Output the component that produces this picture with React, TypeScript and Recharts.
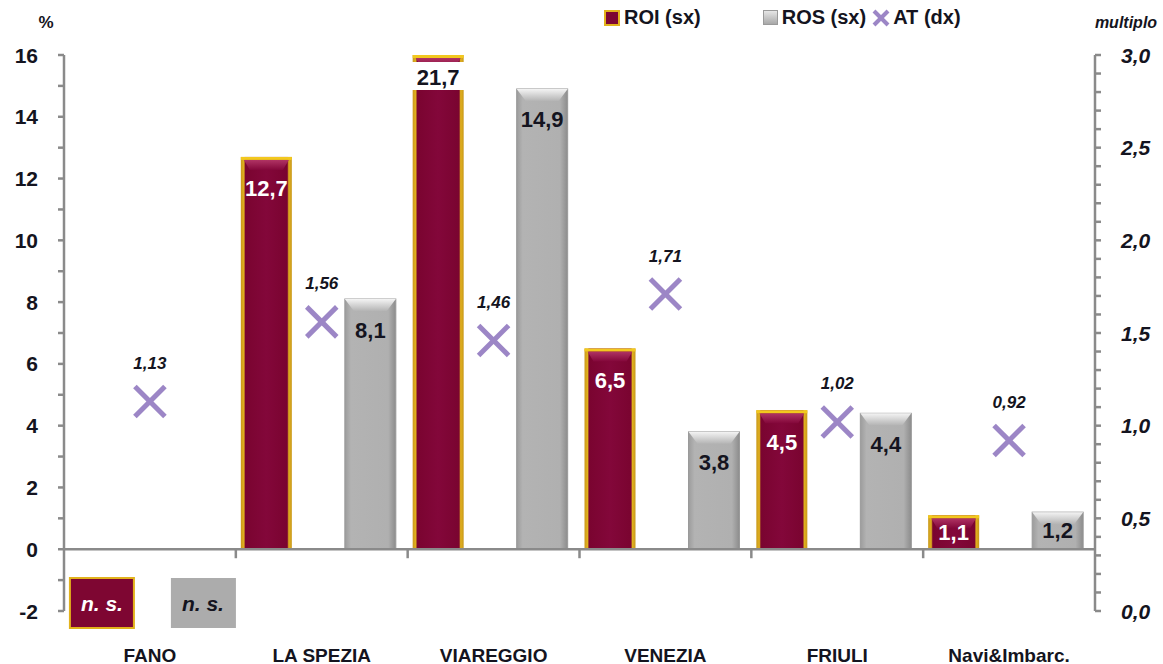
import React from 'react';
import { ComposedChart, Bar, Line, XAxis, YAxis, ReferenceLine, LabelList, Legend, Label } from 'recharts';

const categories = ['FANO', 'LA SPEZIA', 'VIAREGGIO', 'VENEZIA', 'FRIULI', 'Navi&Imbarc.'];
const roiValues: (number | null)[] = [null, 12.7, 21.7, 6.5, 4.5, 1.1];
const rosValues: (number | null)[] = [null, 8.1, 14.9, 3.8, 4.4, 1.2];
const atValues: number[] = [1.13, 1.56, 1.46, 1.71, 1.02, 0.92];

const leftTicks = [-2, -1, 0, 1, 2, 3, 4, 5, 6, 7, 8, 9, 10, 11, 12, 13, 14, 15, 16];
const leftLabelTicks = [-2, 0, 2, 4, 6, 8, 10, 12, 14, 16];
const rightTicks = [0, 0.1, 0.2, 0.3, 0.4, 0.5, 0.6, 0.7, 0.8, 0.9, 1, 1.1, 1.2, 1.3, 1.4, 1.5, 1.6, 1.7, 1.8, 1.9, 2, 2.1, 2.2, 2.3, 2.4, 2.5, 2.6, 2.7, 2.8, 2.9, 3];
const rightLabelTicks = [0, 0.5, 1, 1.5, 2, 2.5, 3];

const LEFT_MIN = -2;
const LEFT_MAX = 16;
const RIGHT_MIN = 0;
const RIGHT_MAX = 3;

const data = categories.map((name, i) => ({ name, roi: roiValues[i], ros: rosValues[i], at: atValues[i] }));

const W = 1163;
const H = 664;
const MARGIN = { top: 55, right: 8, left: 4, bottom: 5 };
const Y_W = 60;
const X_H = 48;
const PLOT_LEFT = MARGIN.left + Y_W;
const PLOT_RIGHT = W - MARGIN.right - Y_W;
const PLOT_TOP = MARGIN.top;
const PLOT_BOTTOM = H - MARGIN.bottom - X_H;
const BAND = (PLOT_RIGHT - PLOT_LEFT) / categories.length;
const ZERO_Y = PLOT_TOP + ((LEFT_MAX - 0) / (LEFT_MAX - LEFT_MIN)) * (PLOT_BOTTOM - PLOT_TOP);

const FONT = '"Liberation Sans", Arial, sans-serif';
const AXIS_COLOR = '#8a8a8a';
const TEXT = '#141420';
const MAROON = '#7e0632';
const GOLD = '#e2b21c';
const GREY = '#acacac';
const PURPLE = '#9c86c6';
const SHIFT = -3;

const fmt1 = (v: number) => v.toFixed(1).replace('.', ',');
const fmt2 = (v: number) => v.toFixed(2).replace('.', ',');

const clipTop = (y: number, height: number, v: number) => {
  const bottom = y + height;
  return v > LEFT_MAX ? bottom - LEFT_MAX * (height / v) : y;
};

const RoiShape = (props: any) => {
  const { x, y, width, height, payload } = props;
  const v = payload?.roi;
  if (v == null || !height) return null;
  const bx = x + SHIFT;
  const bottom = y + height;
  const top = clipTop(y, height, v);
  const h = bottom - top;
  return (
    <g>
      <rect x={bx} y={top} width={width} height={h} fill="url(#roiGrad)" />
      <polygon
        points={`${bx + 3},${top + 3} ${bx + width - 3},${top + 3} ${bx + width - 9},${top + 3 + Math.min(10, h / 3)} ${bx + 9},${top + 3 + Math.min(10, h / 3)}`}
        fill="url(#roiTop)"
      />
      <rect x={bx} y={top} width={width} height={3} fill="#f2c81e" />
      {v > LEFT_MAX && <rect x={bx - 1} y={top + 7} width={width + 2} height={28} fill="#ffffff" />}
    </g>
  );
};

const RosShape = (props: any) => {
  const { x, y, width, height, payload } = props;
  const v = payload?.ros;
  if (v == null || !height) return null;
  const bx = x + SHIFT;
  const bottom = y + height;
  const top = clipTop(y, height, v);
  const h = bottom - top;
  const bev = Math.min(12, h / 2);
  return (
    <g>
      <rect x={bx} y={top} width={width} height={h} fill="url(#rosGrad)" stroke="#9a9a9a" strokeWidth={1} />
      <polygon
        points={`${bx},${top} ${bx + width},${top} ${bx + width - 9},${top + bev} ${bx + 9},${top + bev}`}
        fill="url(#rosTop)"
      />
    </g>
  );
};

const getVB = (props: any) => {
  const vb = props.viewBox;
  if (vb && vb.width != null) return vb;
  return props;
};

const RoiLabel = (props: any) => {
  const { value } = props;
  if (value == null) return null;
  const { x, y, width, height } = getVB(props);
  const top = clipTop(y, height, value);
  const h = y + height - top;
  const over = value > LEFT_MAX;
  const cy = over ? top + 22 : top + Math.min(32, h / 2);
  return (
    <text x={x + SHIFT + width / 2} y={cy} textAnchor="middle" dominantBaseline="central"
      fill={over ? TEXT : '#ffffff'} fontFamily={FONT} fontWeight={700} fontSize={22}>
      {fmt1(value)}
    </text>
  );
};

const RosLabel = (props: any) => {
  const { value } = props;
  if (value == null) return null;
  const { x, y, width, height } = getVB(props);
  const top = clipTop(y, height, value);
  const h = y + height - top;
  const cy = top + Math.min(31, h / 2);
  return (
    <text x={x + SHIFT + width / 2} y={cy} textAnchor="middle" dominantBaseline="central"
      fill={TEXT} fontFamily={FONT} fontWeight={700} fontSize={22}>
      {fmt1(value)}
    </text>
  );
};

const XDot = (props: any) => {
  const { cx, cy } = props;
  if (cx == null || cy == null) return null;
  const s = 15;
  return (
    <g>
      <line x1={cx - s} y1={cy - s} x2={cx + s} y2={cy + s} stroke={PURPLE} strokeWidth={5} />
      <line x1={cx - s} y1={cy + s} x2={cx + s} y2={cy - s} stroke={PURPLE} strokeWidth={5} />
    </g>
  );
};

const AtLabel = (props: any) => {
  const { value } = props;
  if (value == null) return null;
  const { x, y } = getVB(props);
  return (
    <text x={x} y={y - 38} textAnchor="middle" dominantBaseline="central" fill={TEXT}
      fontFamily={FONT} fontWeight={700} fontStyle="italic" fontSize={17}>
      {fmt2(value)}
    </text>
  );
};

const CatTick = (props: any) => {
  const { x, payload } = props;
  const idx = payload.index ?? categories.indexOf(payload.value);
  const boxY = PLOT_BOTTOM - 33;
  return (
    <g>
      {idx > 0 && (
        <line x1={x - BAND / 2} y1={ZERO_Y} x2={x - BAND / 2} y2={ZERO_Y + 9} stroke={AXIS_COLOR} strokeWidth={2.5} />
      )}
      {roiValues[idx] == null && (
        <g>
          <rect x={x - 80} y={boxY} width={64} height={50} fill={MAROON} stroke={GOLD} strokeWidth={2} />
          <text x={x - 48} y={boxY + 25} textAnchor="middle" dominantBaseline="central" fill="#ffffff"
            fontFamily={FONT} fontWeight={700} fontStyle="italic" fontSize={21}>n. s.</text>
        </g>
      )}
      {rosValues[idx] == null && (
        <g>
          <rect x={x + 21} y={boxY} width={65} height={50} fill={GREY} />
          <text x={x + 53} y={boxY + 25} textAnchor="middle" dominantBaseline="central" fill={TEXT}
            fontFamily={FONT} fontWeight={700} fontStyle="italic" fontSize={21}>n. s.</text>
        </g>
      )}
      <text x={x} y={PLOT_BOTTOM + 44} textAnchor="middle" dominantBaseline="central" fill={TEXT}
        fontFamily={FONT} fontWeight={700} fontSize={19}>
        {payload.value}
      </text>
    </g>
  );
};

const LeftTick = (props: any) => {
  const { x, y, payload } = props;
  if (!leftLabelTicks.includes(payload.value)) return null;
  return (
    <text x={x} y={y} textAnchor="end" dominantBaseline="central" fill={TEXT}
      fontFamily={FONT} fontWeight={700} fontSize={21}>
      {payload.value}
    </text>
  );
};

const RightTick = (props: any) => {
  const { x, y, payload } = props;
  const v = payload.value;
  if (!rightLabelTicks.some((t) => Math.abs(t - v) < 1e-6)) return null;
  return (
    <text x={x} y={y} textAnchor="start" dominantBaseline="central" fill={TEXT}
      fontFamily={FONT} fontWeight={700} fontStyle="italic" fontSize={21}>
      {fmt1(v)}
    </text>
  );
};

const LegendContent = () => (
  <div style={{ display: 'flex', alignItems: 'center', fontFamily: FONT, fontWeight: 700, fontSize: 20, color: TEXT, whiteSpace: 'nowrap' }}>
    <span style={{ display: 'inline-block', width: 12, height: 12, background: MAROON, border: `2px solid ${GOLD}`, marginRight: 4 }} />
    <span style={{ marginRight: 62 }}>ROI (sx)</span>
    <span style={{ display: 'inline-block', width: 13, height: 13, background: 'linear-gradient(#e6e6e6, #a8a8a8)', border: '1px solid #9a9a9a', marginRight: 4 }} />
    <span style={{ marginRight: 6 }}>ROS (sx)</span>
    <svg width={18} height={18} style={{ marginRight: 3 }}>
      <line x1={2} y1={2} x2={16} y2={16} stroke={PURPLE} strokeWidth={4} />
      <line x1={2} y1={16} x2={16} y2={2} stroke={PURPLE} strokeWidth={4} />
    </svg>
    <span>AT (dx)</span>
  </div>
);

const LeftTitle = (props: any) => {
  const vb = props.viewBox || {};
  return (
    <text x={(vb.x ?? 0) + 42} y={PLOT_TOP - 33} textAnchor="middle" dominantBaseline="central" fill={TEXT}
      fontFamily={FONT} fontWeight={700} fontSize={17}>%</text>
  );
};

const RightTitle = (props: any) => {
  const vb = props.viewBox || {};
  return (
    <text x={(vb.x ?? PLOT_RIGHT) + 31} y={PLOT_TOP - 33} textAnchor="middle" dominantBaseline="central" fill={TEXT}
      fontFamily={FONT} fontWeight={700} fontStyle="italic" fontSize={16}>multiplo</text>
  );
};

export default function App() {
  return (
    <div style={{ position: 'absolute', left: 0, top: 0, width: W, height: H, background: '#ffffff' }}>
      <ComposedChart width={W} height={H} data={data} margin={MARGIN} barSize={51} barGap={53}>
        <defs>
          <linearGradient id="roiGrad" x1="0" y1="0" x2="1" y2="0">
            <stop offset="0" stopColor="#c9981c" />
            <stop offset="0.06" stopColor="#e0b21e" />
            <stop offset="0.09" stopColor="#7a0430" />
            <stop offset="0.5" stopColor="#83073a" />
            <stop offset="0.91" stopColor="#7a0430" />
            <stop offset="0.94" stopColor="#e0b21e" />
            <stop offset="1" stopColor="#c9981c" />
          </linearGradient>
          <linearGradient id="roiTop" x1="0" y1="0" x2="0" y2="1">
            <stop offset="0" stopColor="#b03464" />
            <stop offset="1" stopColor="#83073a" />
          </linearGradient>
          <linearGradient id="rosGrad" x1="0" y1="0" x2="1" y2="0">
            <stop offset="0" stopColor="#9c9c9c" />
            <stop offset="0.12" stopColor="#b3b3b3" />
            <stop offset="0.85" stopColor="#b0b0b0" />
            <stop offset="1" stopColor="#8c8c8c" />
          </linearGradient>
          <linearGradient id="rosTop" x1="0" y1="0" x2="0" y2="1">
            <stop offset="0" stopColor="#f4f4f4" />
            <stop offset="1" stopColor="#b4b4b4" />
          </linearGradient>
        </defs>
        <XAxis dataKey="name" xAxisId={0} axisLine={false} tickLine={false} interval={0} height={X_H} tick={<CatTick />} />
        <YAxis
          yAxisId="left"
          width={Y_W}
          domain={[LEFT_MIN, LEFT_MAX]}
          ticks={leftTicks}
          interval={0}
          allowDataOverflow
          axisLine={{ stroke: AXIS_COLOR, strokeWidth: 2.5 }}
          tickLine={{ stroke: AXIS_COLOR, strokeWidth: 2.5 }}
          tickSize={6}
          tickMargin={20}
          tick={<LeftTick />}
        >
          <Label content={<LeftTitle />} />
        </YAxis>
        <YAxis
          yAxisId="right"
          orientation="right"
          width={Y_W}
          domain={[RIGHT_MIN, RIGHT_MAX]}
          ticks={rightTicks}
          interval={0}
          allowDataOverflow
          axisLine={{ stroke: AXIS_COLOR, strokeWidth: 2.5 }}
          tickLine={{ stroke: AXIS_COLOR, strokeWidth: 2.5 }}
          tickSize={6}
          tickMargin={20}
          tick={<RightTick />}
        >
          <Label content={<RightTitle />} />
        </YAxis>
        <ReferenceLine yAxisId="left" y={0} stroke={AXIS_COLOR} strokeWidth={2.5} />
        <Legend
          layout="horizontal"
          verticalAlign="middle"
          align="center"
          content={<LegendContent />}
          wrapperStyle={{ top: 6, left: 604, width: 400, height: 28 }}
        />
        <Bar yAxisId="left" dataKey="roi" name="ROI (sx)" shape={<RoiShape />} isAnimationActive={false}>
          <LabelList dataKey="roi" content={<RoiLabel />} />
        </Bar>
        <Bar yAxisId="left" dataKey="ros" name="ROS (sx)" shape={<RosShape />} isAnimationActive={false}>
          <LabelList dataKey="ros" content={<RosLabel />} />
        </Bar>
        <Line
          yAxisId="right"
          dataKey="at"
          name="AT (dx)"
          stroke="none"
          dot={<XDot />}
          activeDot={false}
          isAnimationActive={false}
        >
          <LabelList dataKey="at" content={<AtLabel />} />
        </Line>
      </ComposedChart>
    </div>
  );
}
